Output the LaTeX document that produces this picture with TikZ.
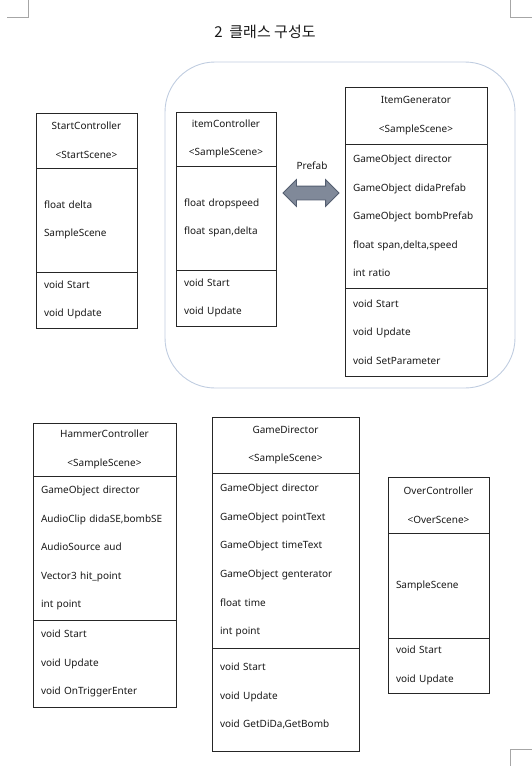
\documentclass[tikz,border=0pt]{standalone}
\usepackage{fontspec}
\setmainfont{Noto Sans}
\newfontfamily\krfont{Noto Sans CJK KR}
\usepackage{xcolor}
\usepackage{tikz}
\usetikzlibrary{positioning,shapes.arrows}

\definecolor{groupline}{RGB}{192,205,224}
\definecolor{arrowfill}{RGB}{128,137,153}
\definecolor{arrowline}{RGB}{84,94,112}

\begin{document}
\begin{tikzpicture}[x=1pt,y=-1pt,node distance=0pt,
		font=\fontsize{10}{28.6}\selectfont,text=black!90]
		\tikzstyle{part}=[draw=black!85,line width=0.8pt,outer sep=0pt,inner xsep=8pt,inner ysep=0pt]
		\tikzstyle{head}=[part,align=center]
		\tikzstyle{body}=[part,align=left]
		\tikzstyle{cropline}=[draw=black!35,line width=0.7pt]
		
		\useasboundingbox (0,0) rectangle (532,766);
		
		% page corners
		\draw[cropline] (7,17) -- (28,17) -- (28,0);
		\draw[cropline] (510,0) -- (510,17) -- (532,17);
		\draw[cropline] (532,749) -- (510,749) -- (510,766);
		
		\node[font=\krfont\fontsize{15}{17}\selectfont] (T) at (265,32) {2\ \ 클래스\ 구성도};
		
		% SampleScene group
		\draw[groupline,line width=0.9pt,rounded corners=50pt] (165,62) rectangle (515,388);
		
		% StartController
		\node[head,anchor=north west,minimum width=101pt,text width=85pt,minimum height=55pt] (A1) at (36,113) {StartController\\<StartScene>};
		\node[body,below=of A1,minimum width=101pt,text width=85pt,minimum height=104pt] (A2) {float delta\\SampleScene};
		\node[body,below=of A2,minimum width=101pt,text width=85pt,minimum height=56pt]  (A3) {void Start\\void Update};
		
		% itemController
		\node[head,anchor=north west,minimum width=100pt,text width=84pt,minimum height=54pt] (B1) at (176,112) {itemController\\<SampleScene>};
		\node[body,below=of B1,minimum width=100pt,text width=84pt,minimum height=104pt] (B2) {float dropspeed\\float span,delta};
		\node[body,below=of B2,minimum width=100pt,text width=84pt,minimum height=56pt]  (B3) {void Start\\void Update};
		
		% ItemGenerator
		\node[head,anchor=north west,minimum width=142pt,text width=126pt,minimum height=57pt] (C1) at (345,87) {ItemGenerator\\<SampleScene>};
		\node[body,below=of C1,minimum width=142pt,text width=126pt,minimum height=144pt] (C2) {GameObject director\\GameObject didaPrefab\\GameObject bombPrefab\\float span,delta,speed\\int ratio};
		\node[body,below=of C2,minimum width=142pt,text width=126pt,minimum height=88pt]  (C3) {void Start\\void Update\\void SetParameter};
		
		% Prefab link
		\node (L) at (312,166) {Prefab};
		\node[double arrow,fill=arrowfill,draw=arrowline,line width=0.8pt,minimum height=56pt,
			inner xsep=0pt,inner ysep=6.5pt,double arrow head extend=6.5pt] (P) at (311,193) {};
		
		% HammerController
		\node[head,anchor=north west,minimum width=143pt,text width=127pt,minimum height=53pt] (D1) at (33,423) {HammerController\\<SampleScene>};
		\node[body,below=of D1,minimum width=143pt,text width=127pt,minimum height=144pt] (D2) {GameObject director\\AudioClip didaSE,bombSE\\AudioSource aud\\Vector3 hit\_point\\int point};
		\node[body,below=of D2,minimum width=143pt,text width=127pt,minimum height=87pt]  (D3) {void Start\\void Update\\void OnTriggerEnter};
		
		% GameDirector
		\node[head,anchor=north west,minimum width=147pt,text width=131pt,minimum height=56pt] (E1) at (212,417) {GameDirector\\<SampleScene>};
		\node[body,below=of E1,minimum width=147pt,text width=131pt,minimum height=175pt] (E2) {GameObject director\\GameObject pointText\\GameObject timeText\\GameObject genterator\\float time\\int point};
		\node[body,below=of E2,minimum width=147pt,text width=131pt,minimum height=103pt] (E3) {void Start\\void Update\\void GetDiDa,GetBomb\\[-20pt]~};
		
		% OverController
		\node[head,anchor=north west,minimum width=101pt,text width=85pt,minimum height=56pt] (F1) at (388,477) {OverController\\<OverScene>};
		\node[body,below=of F1,minimum width=101pt,text width=85pt,minimum height=105pt] (F2) {SampleScene};
		\node[body,below=of F2,minimum width=101pt,text width=85pt,minimum height=55pt]  (F3) {void Start\\void Update};
		
		\end{tikzpicture}
\end{document}
